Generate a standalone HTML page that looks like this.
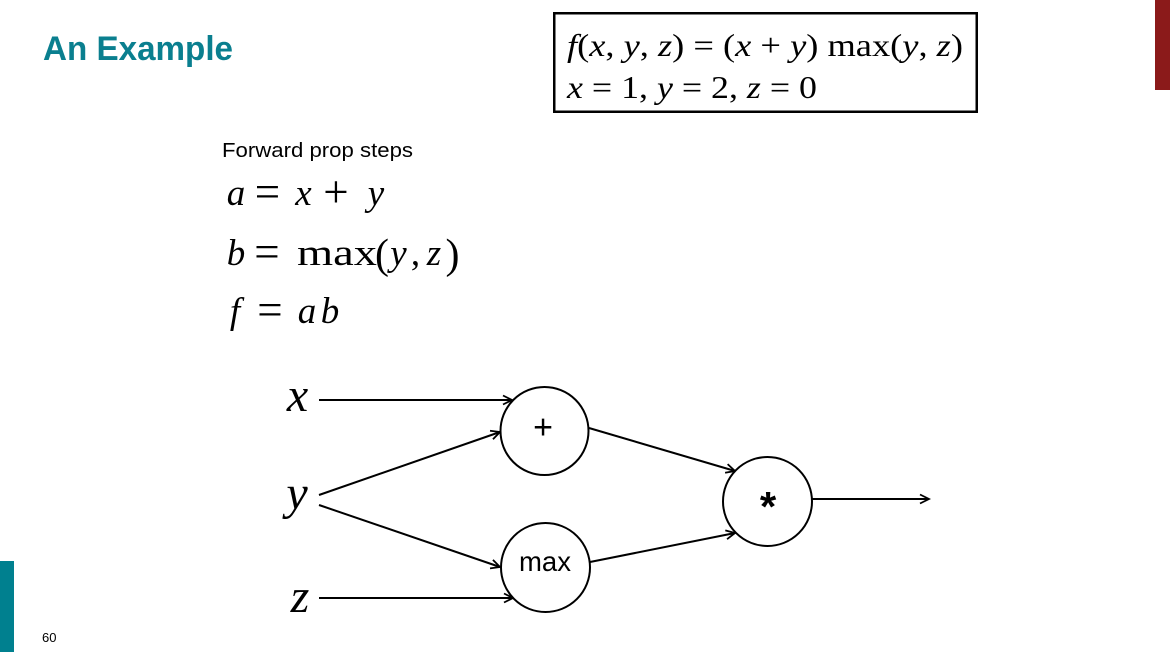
<!DOCTYPE html>
<html>
<head>
<meta charset="utf-8">
<style>
  html, body { margin:0; padding:0; background:#fff; }
  body { width:1170px; height:652px; overflow:hidden; }
  svg { display:block; }
</style>
</head>
<body>
<svg width="1170" height="652" viewBox="0 0 1170 652" xmlns="http://www.w3.org/2000/svg">
  <defs>
    <marker id="arr" markerUnits="userSpaceOnUse" markerWidth="12" markerHeight="12" refX="10" refY="5" orient="auto" viewBox="0 0 12 10">
      <path d="M1,0.5 L10,5 L1,9.5" fill="none" stroke="#000" stroke-width="1.8" stroke-linejoin="miter"/>
    </marker>
  </defs>

  <!-- side bars -->
  <rect x="1155" y="0" width="15" height="90" fill="#8b1a1a"/>
  <rect x="0" y="561" width="14" height="91" fill="#00808f"/>

  <!-- title -->
  <text x="43" y="60" font-family="Liberation Sans, sans-serif" font-weight="bold" font-size="34" fill="#0a7f8f" textLength="190" lengthAdjust="spacingAndGlyphs">An Example</text>

  <!-- formula box -->
  <rect x="554.25" y="13.25" width="422.5" height="98.5" fill="none" stroke="#000" stroke-width="2.5"/>
  <text x="567" y="56" font-family="Liberation Serif, serif" font-size="32" fill="#000" textLength="396" lengthAdjust="spacingAndGlyphs"><tspan font-style="italic">f</tspan>(<tspan font-style="italic">x</tspan>, <tspan font-style="italic">y</tspan>, <tspan font-style="italic">z</tspan>) = (<tspan font-style="italic">x</tspan> + <tspan font-style="italic">y</tspan>) max(<tspan font-style="italic">y</tspan>, <tspan font-style="italic">z</tspan>)</text>
  <text x="567" y="98" font-family="Liberation Serif, serif" font-size="32" fill="#000" textLength="250" lengthAdjust="spacingAndGlyphs"><tspan font-style="italic">x</tspan> = 1, <tspan font-style="italic">y</tspan> = 2, <tspan font-style="italic">z</tspan> = 0</text>

  <!-- forward prop steps -->
  <text x="222" y="157" font-family="Liberation Sans, sans-serif" font-size="20" fill="#000" textLength="191" lengthAdjust="spacingAndGlyphs">Forward prop steps</text>

  <g font-family="Liberation Serif, serif" fill="#000" text-anchor="middle">
    <!-- a = x + y -->
    <text x="236" y="205" font-size="37" font-style="italic">a</text>
    <text x="267.5" y="207" font-size="45">=</text>
    <text x="303.5" y="205" font-size="37" font-style="italic">x</text>
    <text x="336" y="207" font-size="45">+</text>
    <text x="376" y="205" font-size="37" font-style="italic">y</text>

    <!-- b = max(y, z) -->
    <text x="236" y="265" font-size="37" font-style="italic">b</text>
    <text x="267" y="267" font-size="45">=</text>
    <text x="297" y="265" font-size="37" text-anchor="start" textLength="80" lengthAdjust="spacingAndGlyphs">max</text>
    <text x="382" y="268" font-size="42">(</text>
    <text x="398.5" y="265" font-size="37" font-style="italic">y</text>
    <text x="415.5" y="265" font-size="37">,</text>
    <text x="434" y="265" font-size="37" font-style="italic">z</text>
    <text x="452.5" y="268" font-size="42">)</text>

    <!-- f = ab -->
    <text x="235" y="323" font-size="37" font-style="italic">f</text>
    <text x="270" y="325" font-size="45">=</text>
    <text x="307" y="323" font-size="37" font-style="italic">a</text>
    <text x="330" y="323" font-size="37" font-style="italic">b</text>

    <!-- diagram input labels -->
    <text x="297.5" y="411" font-size="48" font-style="italic">x</text>
    <text x="297" y="509" font-size="48" font-style="italic">y</text>
    <text x="300" y="612" font-size="48" font-style="italic">z</text>
  </g>

  <!-- connectors -->
  <g stroke="#000" stroke-width="2" fill="none">
    <line x1="319" y1="400" x2="512" y2="400" marker-end="url(#arr)"/>
    <line x1="319" y1="495" x2="500" y2="432" marker-end="url(#arr)"/>
    <line x1="319" y1="505" x2="500" y2="567" marker-end="url(#arr)"/>
    <line x1="319" y1="598" x2="513" y2="598" marker-end="url(#arr)"/>
    <line x1="589" y1="428" x2="735" y2="471" marker-end="url(#arr)"/>
    <line x1="590" y1="562" x2="735" y2="533" marker-end="url(#arr)"/>
    <line x1="812" y1="499" x2="929" y2="499" marker-end="url(#arr)"/>
  </g>

  <!-- nodes -->
  <g stroke="#000" stroke-width="2" fill="#fff">
    <circle cx="544.5" cy="431" r="44"/>
    <circle cx="545.5" cy="567.5" r="44.5"/>
    <circle cx="767.5" cy="501.5" r="44.5"/>
  </g>

  <!-- node labels -->
  <text x="543" y="438.5" text-anchor="middle" font-family="Liberation Sans, sans-serif" font-size="34" fill="#000">+</text>
  <text x="519" y="571" font-family="Liberation Sans, sans-serif" font-size="28" fill="#000" textLength="52" lengthAdjust="spacingAndGlyphs">max</text>
  <text x="768" y="521" text-anchor="middle" font-family="Liberation Sans, sans-serif" font-weight="bold" font-size="42" fill="#000">*</text>

  <!-- page number -->
  <text x="42" y="642" font-family="Liberation Sans, sans-serif" font-size="13" fill="#000">60</text>
</svg>
</body>
</html>
